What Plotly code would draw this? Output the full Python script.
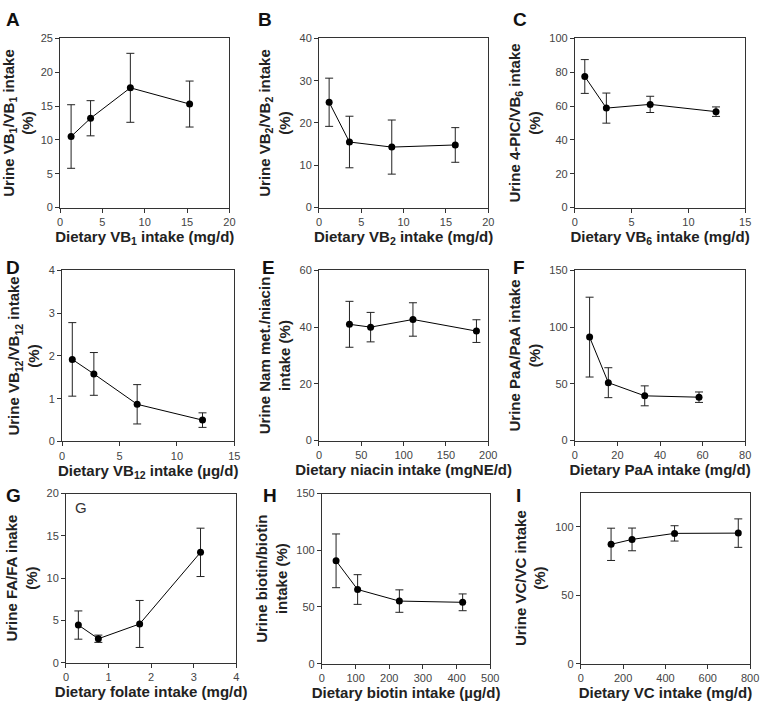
import plotly.graph_objects as go

# ---- data ----
A_x = [1.3, 3.6, 8.3, 15.3]
A_y = [10.5, 13.2, 17.7, 15.3]
A_e = [4.7, 2.6, 5.1, 3.4]

B_x = [1.2, 3.6, 8.6, 16.1]
B_y = [24.9, 15.5, 14.3, 14.8]
B_e = [5.7, 6.1, 6.4, 4.1]

C_x = [0.87, 2.77, 6.63, 12.43]
C_y = [77.5, 58.8, 61.0, 56.7]
C_e = [10.0, 8.9, 4.8, 2.8]

D_x = [0.89, 2.77, 6.54, 12.23]
D_y = [1.92, 1.58, 0.87, 0.50]
D_e = [0.86, 0.50, 0.46, 0.17]

E_x = [36, 61, 111, 186]
E_y = [41.0, 40.0, 42.7, 38.6]
E_e = [8.1, 5.2, 5.9, 4.0]

F_x = [6.9, 15.7, 32.8, 58.3]
F_y = [91.2, 51.0, 39.4, 38.2]
F_e = [35.2, 13.2, 8.8, 4.6]

G_x = [0.29, 0.76, 1.73, 3.16]
G_y = [4.45, 2.83, 4.58, 13.05]
G_e = [1.67, 0.43, 2.78, 2.86]

H_x = [42, 106, 230, 418]
H_y = [90.7, 65.4, 55.2, 54.1]
H_e = [23.7, 13.1, 9.9, 7.4]

I_x = [143, 242, 443, 744]
I_y = [87.2, 90.8, 95.2, 95.4]
I_e = [11.8, 8.3, 5.6, 10.4]

panels = [
    ("A", A_x, A_y, A_e, [0, 20], 5, [0, 25], 5,
     "Dietary VB<sub>1</sub> intake (mg/d)", "Urine VB<sub>1</sub>/VB<sub>1</sub> intake<br>(%)"),
    ("B", B_x, B_y, B_e, [0, 20], 5, [0, 40], 10,
     "Dietary VB<sub>2</sub> intake (mg/d)", "Urine VB<sub>2</sub>/VB<sub>2</sub> intake<br>(%)"),
    ("C", C_x, C_y, C_e, [0, 15], 5, [0, 100], 20,
     "Dietary VB<sub>6</sub> intake (mg/d)", "Urine 4-PIC/VB<sub>6</sub> intake<br>(%)"),
    ("D", D_x, D_y, D_e, [0, 15], 5, [0, 4], 1,
     "Dietary VB<sub>12</sub> intake (µg/d)", "Urine VB<sub>12</sub>/VB<sub>12</sub> intake<br>(%)"),
    ("E", E_x, E_y, E_e, [0, 200], 50, [0, 60], 20,
     "Dietary niacin intake (mgNE/d)", "Urine Nam met./niacin<br>intake (%)"),
    ("F", F_x, F_y, F_e, [0, 80], 20, [0, 150], 50,
     "Dietary PaA intake (mg/d)", "Urine PaA/PaA intake<br>(%)"),
    ("G", G_x, G_y, G_e, [0, 4], 1, [0, 20], 5,
     "Dietary folate intake (mg/d)", "Urine FA/FA inake<br>(%)"),
    ("H", H_x, H_y, H_e, [0, 500], 100, [0, 150], 50,
     "Dietary biotin intake (µg/d)", "Urine biotin/biotin<br>intake (%)"),
    ("I", I_x, I_y, I_e, [0, 800], 200, [0, 125], 50,
     "Dietary VC intake (mg/d)", "Urine VC/VC intake<br>(%)"),
]

# plot-area boxes in pixels (x0, x1, y0, y1) of a 767x708 canvas
boxes = [
    (58, 230, 33, 205), (321, 493, 33, 205), (581, 754, 33, 205),
    (60, 235, 269, 443), (321, 493, 269, 442), (581, 754, 269, 442),
    (64, 237, 496, 668), (324, 495, 496, 669), (587, 759, 495, 669),
]
letter_pos = [(1, 1), (257, 1), (516, 1), (1, 253), (261, 253), (516, 253),
              (1, 485), (262, 485), (519, 485)]

W, H = 767, 708
fig = go.Figure()
font_fam = "Liberation Sans, Arial, sans-serif"

for i, (p, xs, ys, es, xr, dx, yr, dy, xt, yt) in enumerate(panels):
    n = i + 1
    xa = "x" if n == 1 else f"x{n}"
    ya = "y" if n == 1 else f"y{n}"
    fig.add_trace(go.Scatter(
        x=xs, y=ys, mode="lines+markers", xaxis=xa, yaxis=ya,
        line=dict(color="black", width=1),
        marker=dict(color="black", size=7),
        error_y=dict(type="data", array=es, visible=True, color="#222", thickness=1, width=4),
        showlegend=False, hoverinfo="skip"))
    x0, x1, y0, y1 = boxes[i]
    common = dict(showgrid=False, zeroline=False, showline=True, linecolor="#333",
                  linewidth=1, mirror=True, ticks="outside", ticklen=4, tickcolor="#333",
                  tickfont=dict(family=font_fam, size=11, color="#444"))
    fig.layout[f"xaxis{n if n > 1 else ''}"] = dict(
        domain=[x0 / W, x1 / W], anchor=ya, range=xr, dtick=dx, tick0=0,
        title=dict(text=xt, font=dict(family=font_fam, size=15, color="#222", weight="bold"),
                   standoff=0),
        **common)
    fig.layout[f"yaxis{n if n > 1 else ''}"] = dict(
        domain=[1 - y1 / H, 1 - y0 / H], anchor=xa, range=yr, dtick=dy, tick0=0,
        title=dict(text=yt, font=dict(family=font_fam, size=15, color="#222", weight="bold"),
                   standoff=5),
        **common)
    lx, ly = letter_pos[i]
    fig.add_annotation(text=f"<b>{p}</b>", xref="paper", yref="paper",
                       x=lx / W, y=1 - ly / H, xanchor="left", yanchor="top",
                       showarrow=False, font=dict(family=font_fam, size=19, color="#111"))

# inner "G" label in panel G
fig.add_annotation(text="G", xref="x7 domain", yref="y7 domain", x=0.04, y=0.98,
                   xanchor="left", yanchor="top", showarrow=False,
                   font=dict(family=font_fam, size=15, color="#333"))

fig.update_layout(width=W, height=H, margin=dict(l=0, r=0, t=0, b=0),
                  plot_bgcolor="white", paper_bgcolor="white",
                  font=dict(family=font_fam))
fig.write_html("out.html", config={"displayModeBar": False},
               post_script="document.body.style.margin='0px';document.body.style.overflow='hidden';")
